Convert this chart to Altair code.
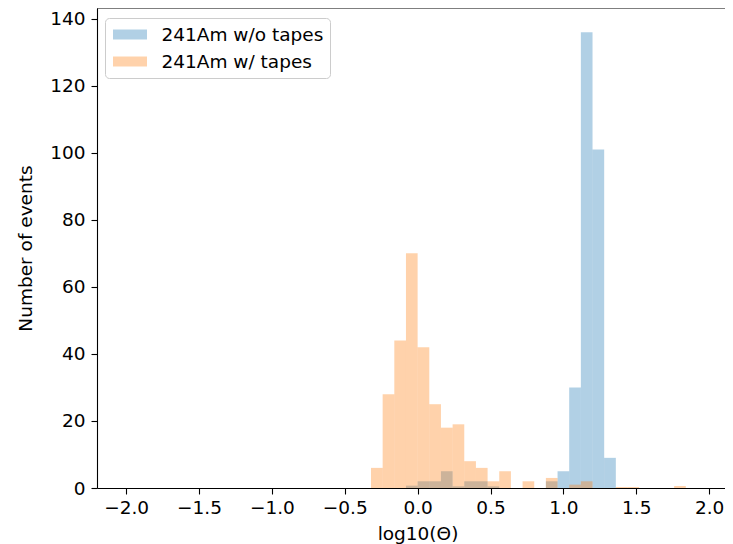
import altair as alt
import pandas as pd

# ---- data (histogram, bin width 0.08) ----
bin_width = 0.08
blue_label = "241Am w/o tapes"
orange_label = "241Am w/ tapes"

blue_bin_left = [-0.08, 0.00, 0.08, 0.16, 0.24, 0.32, 0.40, 0.48, 0.88, 0.96, 1.04, 1.12, 1.20, 1.28]
blue_counts = [0.7, 2, 2, 5, 0.5, 2, 2, 0.5, 2, 5, 30, 136, 101, 9]

orange_bin_left = [-0.32, -0.24, -0.16, -0.08, 0.00, 0.08, 0.16, 0.24, 0.32, 0.40,
                   0.48, 0.56, 0.72, 0.88, 1.04, 1.12, 1.36, 1.44, 1.76]
orange_counts = [6, 28, 44, 70, 42, 25, 18, 19, 8, 6,
                 2, 5, 2, 3, 1, 2, 0.3, 0.3, 0.6]

x_ticks = [-2.0, -1.5, -1.0, -0.5, 0.0, 0.5, 1.0, 1.5, 2.0]
y_ticks = [0, 20, 40, 60, 80, 100, 120, 140]

rows = []
for left, c in zip(blue_bin_left, blue_counts):
    rows.append({"series": blue_label, "left": left, "right": left + bin_width, "count": c})
for left, c in zip(orange_bin_left, orange_counts):
    rows.append({"series": orange_label, "left": left, "right": left + bin_width, "count": c})
df = pd.DataFrame(rows)

FONT = "DejaVu Sans"
FS = 18.5

color_scale = alt.Scale(domain=[blue_label, orange_label], range=["#1f77b4", "#ff7f0e"])

legend = alt.Legend(
    title=None, orient="none", legendX=8, legendY=10,
    symbolType="M-0.85,-0.5H2.55V0.5H-0.85Z", symbolSize=400,
    symbolOpacity=0.35, symbolStrokeWidth=0,
    labelFont=FONT, labelFontSize=FS, labelColor="black", labelOffset=30, labelLimit=400,
    rowPadding=7, padding=6.5, strokeColor="#cccccc",
    fillColor="rgba(255,255,255,0.8)", cornerRadius=4,
)

x_axis = alt.Axis(
    values=x_ticks, format=".1f", title="log10(Θ)", grid=False,
    domainColor="black", domainWidth=1.1, tickColor="black", tickWidth=1.1, tickSize=6,
    labelFont=FONT, labelFontSize=FS, labelColor="black", labelPadding=4, labelFlush=False,
    titleFont=FONT, titleFontSize=FS, titleFontWeight="normal", titleColor="black",
    titlePadding=8, titleX=320.5,
)
y_axis = alt.Axis(
    values=y_ticks, title="Number of events", grid=False,
    domainColor="black", domainWidth=1.1, tickColor="black", tickWidth=1.1, tickSize=6,
    labelFont=FONT, labelFontSize=FS, labelColor="black", labelPadding=6,
    titleFont=FONT, titleFontSize=FS, titleFontWeight="normal", titleColor="black",
    titlePadding=14,
)

bars = alt.Chart(df).mark_bar(opacity=0.35).encode(
    x=alt.X("left:Q", scale=alt.Scale(domain=[-2.2, 2.109], nice=False, zero=False), axis=x_axis),
    x2="right:Q",
    y=alt.Y("count:Q", stack=None, scale=alt.Scale(domain=[0, 143.2], nice=False), axis=y_axis),
    y2=alt.datum(0),
    color=alt.Color("series:N", scale=color_scale, legend=legend),
)

top_spine = alt.Chart(pd.DataFrame({"k": [0]})).mark_rule(color="black", strokeWidth=1.1).encode(
    y=alt.value(0)
)

chart = alt.layer(bars, top_spine).properties(
    width=628, height=480,
    autosize=alt.AutoSizeParams(type="none"),
    padding={"left": 89, "top": 0, "right": 0, "bottom": 56},
).configure_view(stroke=None)

chart.save("out.html", embed_options={"renderer": "svg", "actions": False})
